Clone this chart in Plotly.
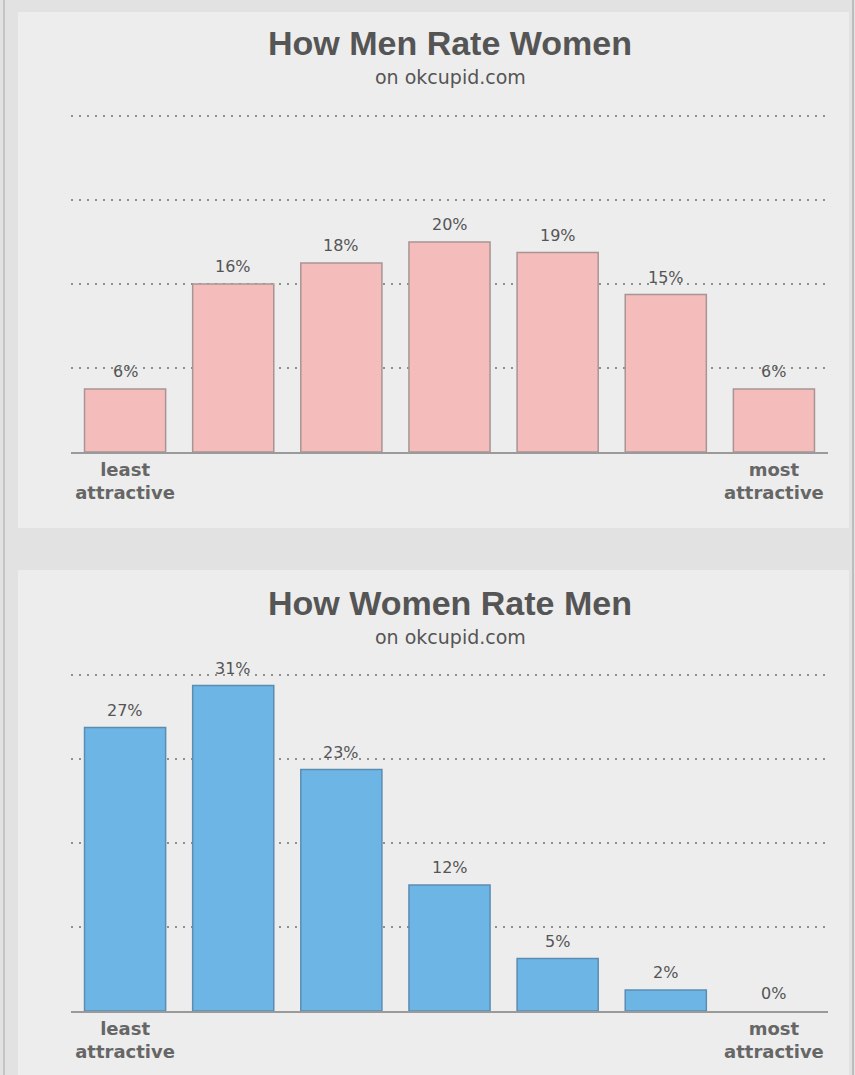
import plotly.graph_objects as go

W, H = 855, 1075

categories = [0, 1, 2, 3, 4, 5, 6]
tick_labels = ["<b>least<br>attractive</b>", "", "", "", "", "", "<b>most<br>attractive</b>"]
men_rate_women = [6, 16, 18, 20, 19, 15, 6]
women_rate_men = [27, 31, 23, 12, 5, 2, 0]
grid_vals = [8, 16, 24, 32]

titles = ["How Men Rate Women", "How Women Rate Men"]
subtitle = "on okcupid.com"

PX_PER_UNIT = 10.5
YMAX = 32.3


def py(px):
    return 1 - px / H


def px_x(px):
    return px / W


fig = go.Figure()

fig.add_trace(go.Bar(
    x=categories, y=men_rate_women, width=0.75,
    marker=dict(color="#f5bcbc",
                line=dict(color="#a89494", width=[1.5 if v > 0 else 0 for v in men_rate_women])),
    xaxis="x", yaxis="y", hoverinfo="skip",
))
fig.add_trace(go.Bar(
    x=categories, y=women_rate_men, width=0.75,
    marker=dict(color="#6cb5e5",
                line=dict(color="#5b8db3", width=[1.5 if v > 0 else 0 for v in women_rate_men])),
    xaxis="x2", yaxis="y2", hoverinfo="skip",
))

annotations = []
for xs, ys, yref, xref in [(categories, men_rate_women, "y", "x"),
                           (categories, women_rate_men, "y2", "x2")]:
    for xv, yv in zip(xs, ys):
        annotations.append(dict(
            x=xv, y=yv, xref=xref, yref=yref, text=f"{yv}%",
            showarrow=False, yanchor="bottom", yshift=6,
            font=dict(family="DejaVu Sans", size=16, color="#555555"),
        ))

for title, ty, sy in [(titles[0], 43, 77), (titles[1], 603, 637)]:
    annotations.append(dict(
        x=px_x(450), y=py(ty), xref="paper", yref="paper", text=f"<b>{title}</b>",
        showarrow=False, xanchor="center", yanchor="middle",
        font=dict(family="Liberation Sans", size=34, color="#555555"),
    ))
    annotations.append(dict(
        x=px_x(450), y=py(sy), xref="paper", yref="paper", text=subtitle,
        showarrow=False, xanchor="center", yanchor="middle",
        font=dict(family="DejaVu Sans", size=19, color="#555555"),
    ))

shapes = [
    dict(type="rect", xref="paper", yref="paper", x0=px_x(18), x1=px_x(849),
         y0=py(528), y1=py(12), fillcolor="#ededed", line=dict(width=0), layer="below"),
    dict(type="rect", xref="paper", yref="paper", x0=px_x(18), x1=px_x(849),
         y0=0, y1=py(570), fillcolor="#ededed", line=dict(width=0), layer="below"),
    dict(type="line", xref="paper", yref="paper", x0=px_x(4), x1=px_x(4),
         y0=0, y1=1, line=dict(color="#c4c4c4", width=2), layer="below"),
    dict(type="line", xref="paper", yref="paper", x0=px_x(853), x1=px_x(853),
         y0=0, y1=1, line=dict(color="#bdbdbd", width=2), layer="below"),
]

xaxis_common = dict(
    range=[-0.5, 6.5], tickmode="array", tickvals=categories, ticktext=tick_labels,
    showline=True, linecolor="#9a9a9a", linewidth=2, showgrid=False, zeroline=False,
    ticks="", tickfont=dict(family="DejaVu Sans", size=18, color="#666666"),
    domain=[px_x(71), px_x(828)], fixedrange=True,
)
yaxis_common = dict(
    range=[0, YMAX], tickmode="array", tickvals=grid_vals, showticklabels=False,
    showgrid=True, gridcolor="#8f8f8f", gridwidth=1.5, griddash="2px,6px",
    zeroline=False, showline=False, ticks="", fixedrange=True,
)

top_base, bot_base = 452, 1011
span = YMAX * PX_PER_UNIT

fig.update_layout(
    width=W, height=H, margin=dict(l=0, r=0, t=0, b=0),
    paper_bgcolor="#e2e2e2", plot_bgcolor="rgba(0,0,0,0)",
    showlegend=False, bargap=0.25,
    xaxis=dict(**xaxis_common, anchor="y"),
    yaxis=dict(**yaxis_common, domain=[py(top_base), py(top_base - span)], anchor="x"),
    xaxis2=dict(**xaxis_common, anchor="y2"),
    yaxis2=dict(**yaxis_common, domain=[py(bot_base), py(bot_base - span)], anchor="x2"),
    annotations=annotations, shapes=shapes,
)

fig.write_html("out.html")
